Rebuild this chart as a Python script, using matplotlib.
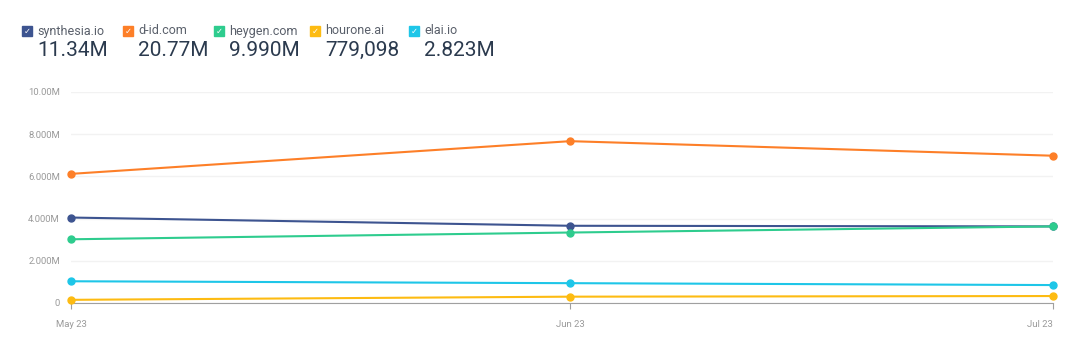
import numpy as np
import matplotlib
matplotlib.use("Agg")
import matplotlib.pyplot as plt
from matplotlib.patches import Rectangle
from datetime import date

plt.rcParams['font.family'] = ['Roboto', 'DejaVu Sans']

# Data (monthly visits, millions)
months = [date(2023, 5, 1), date(2023, 6, 1), date(2023, 7, 1)]
month_labels = ['May 23', 'Jun 23', 'Jul 23']
sites = ['synthesia.io', 'd-id.com', 'heygen.com', 'hourone.ai', 'elai.io']
totals = ['11.34M', '20.77M', '9.990M', '779,098', '2.823M']
synthesia = [4.05, 3.66, 3.63]
did = [6.12, 7.67, 6.98]
heygen = [3.02, 3.34, 3.63]
hourone = [0.15, 0.30, 0.33]
elai = [1.03, 0.94, 0.85]
y_ticks = [0, 2, 4, 6, 8, 10]
y_tick_labels = ['0', '2.000M', '4.000M', '6.000M', '8.000M', '10.00M']

colors = ['#3d5490', '#fd7f28', '#2ecc8e', '#fdbb12', '#1ec6e8']
series = [synthesia, did, heygen, hourone, elai]

W, H = 1080, 350
fig = plt.figure(figsize=(10.8, 3.5), dpi=100)
ax = fig.add_axes([71 / W, 1 - 303 / H, (1053 - 71) / W, (303 - 92) / H])

for vals, c in zip(series, colors):
    ax.plot(months, vals, color=c, lw=1.5, marker='o', ms=5, clip_on=False, zorder=3)

ax.set_ylim(0, 10)
ax.set_xlim(months[0], months[-1])
ax.set_yticks(y_ticks)
ax.set_yticklabels(y_tick_labels)
ax.set_xticks(months)
ax.set_xticklabels(month_labels)
ax.grid(axis='y', color='#f2f2f2', lw=1)
ax.set_axisbelow(True)
for s in ['top', 'right', 'left']:
    ax.spines[s].set_visible(False)
ax.spines['bottom'].set_color('#a0a0a0')
ax.tick_params(axis='y', length=0, pad=8, labelsize=6.8, labelcolor='#9a9a9a')
ax.tick_params(axis='x', length=4, color='#a0a0a0', pad=8, labelsize=6.8, labelcolor='#9a9a9a')
xl = ax.get_xticklabels()
xl[0].set_ha('center')
xl[-1].set_ha('right')

# header legend
col_x = [22, 123, 214, 310, 409]
for x, name, tot, c in zip(col_x, sites, totals, colors):
    fig.patches.append(Rectangle((x / W, 1 - 36 / H), 10 / W, 10 / H,
                                 transform=fig.transFigure, color=c, figure=fig))
    fig.text((x + 5) / W, 1 - 31 / H, '\u2713', color='white', fontsize=6,
             ha='center', va='center', family='DejaVu Sans', fontweight='bold')
    fig.text((x + 15) / W, 1 - 31 / H, name, color='#5a606b', fontsize=9,
             ha='left', va='center')
    fig.text((x + 15) / W, 1 - 56 / H, tot, color='#2b3a4e', fontsize=15,
             ha='left', va='baseline')

fig.savefig('out.png', dpi=100)
